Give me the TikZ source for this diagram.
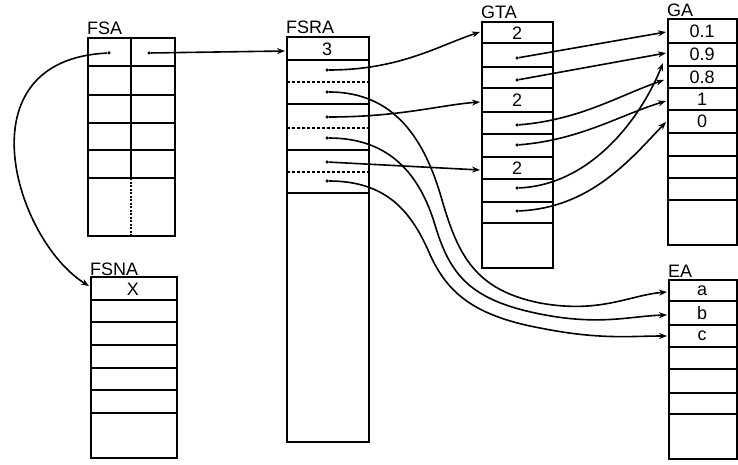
\documentclass[tikz,border=0pt]{standalone}
\usepackage{fontspec}
\setmainfont{Liberation Sans}
\usetikzlibrary{arrows.meta}
\begin{document}
\begin{tikzpicture}[x=1pt,y=-1pt,
  box/.style={line width=2.2pt},
  sep/.style={line width=1.9pt},
  dsep/.style={line width=1.6pt, dash pattern=on 3pt off 2pt},
  ptr/.style={line width=1.6pt, -{Stealth[length=8pt,width=6pt]}},
  lbl/.style={anchor=base west, inner sep=0pt, font=\fontsize{18}{21}\selectfont},
  val/.style={inner sep=0pt, font=\fontsize{18}{21}\selectfont},
  dotn/.style={circle, fill, inner sep=0pt, minimum size=3.5pt}]
\useasboundingbox (0,0) rectangle (738,465);
\fill[white] (0,0) rectangle (738,465);

% ---------- FSA ----------
\node[lbl] (lfsa) at (87,35) {FSA};
\draw[box] (88,38) rectangle (175,236);
\foreach \y in {66,95,123,150,178} \draw[sep] (88,\y) -- (175,\y);
\draw[sep] (131,38) -- (131,178);
\draw[line width=1.4pt, dash pattern=on 2pt off 1.5pt] (131,178) -- (131,236);
\node[dotn] (fsaL) at (109,53) {};
\node[dotn] (fsaR) at (149,53) {};

% ---------- FSNA ----------
\node[lbl] (lfsna) at (90,275) {FSNA};
\draw[box] (91,277) rectangle (177,458);
\foreach \y in {300,322,345,368,390,413} \draw[sep] (91,\y) -- (177,\y);
\node[val] (x) at (133,289) {X};
\coordinate (fsnaIn) at (89,286);

% ---------- FSRA ----------
\node[lbl] (lfsra) at (286,34) {FSRA};
\draw[box] (287,37) rectangle (369,442);
\foreach \y in {60,104,150,193} \draw[sep] (287,\y) -- (369,\y);
\foreach \y in {82,128,172} \draw[dsep] (287,\y) -- (369,\y);
\node[val] (three) at (327,49) {3};
\coordinate (fsraIn) at (285,51);
\node[dotn] (r1) at (327,70) {};
\node[dotn] (r2) at (327,92) {};
\node[dotn] (r3) at (327,117) {};
\node[dotn] (r4) at (327,138) {};
\node[dotn] (r5) at (327,162) {};
\node[dotn] (r6) at (327,181) {};

% ---------- GTA ----------
\node[lbl] (lgta) at (481,19) {GTA};
\draw[box] (482,22) rectangle (553,268);
\foreach \y in {43,67,88,112,134,157,179,202,223} \draw[sep] (482,\y) -- (553,\y);
\node[val] (t1) at (517,33) {2};
\node[val] (t2) at (517,100) {2};
\node[val] (t3) at (517,168) {2};
\coordinate (gtaIn1) at (480,32);
\coordinate (gtaIn2) at (480,102);
\coordinate (gtaIn3) at (480,170);
\node[dotn] (g1) at (517,58) {};
\node[dotn] (g2) at (517,80) {};
\node[dotn] (g3) at (517,125) {};
\node[dotn] (g4) at (517,145) {};
\node[dotn] (g5) at (517,188) {};
\node[dotn] (g6) at (517,211) {};

% ---------- GA ----------
\node[lbl] (lga) at (667,17) {GA};
\draw[box] (668,19) rectangle (737,245);
\foreach \y in {43,66,88,110,133,156,178,200} \draw[sep] (668,\y) -- (737,\y);
\node[val] (v1) at (702,31) {0.1};
\node[val] (v2) at (702,54) {0.9};
\node[val] (v3) at (702,77) {0.8};
\node[val] (v4) at (702,99) {1};
\node[val] (v5) at (702,121) {0};
\coordinate (gaA) at (666,32);
\coordinate (gaB) at (666,53);
\coordinate (gaC) at (664,80);
\coordinate (gaD) at (666,101);
\coordinate (gaE) at (663,63);
\coordinate (gaF) at (666,122);

% ---------- EA ----------
\node[lbl] (lea) at (668,277) {EA};
\draw[box] (669,280) rectangle (737,459);
\foreach \y in {301,325,347,369,393,414} \draw[sep] (669,\y) -- (737,\y);
\node[val] (ea) at (702,291) {a};
\node[val] (eb) at (702,313) {b};
\node[val] (ec) at (702,336) {c};
\coordinate (eaA) at (667,292);
\coordinate (eaB) at (667,315);
\coordinate (eaC) at (667,336);

% ---------- pointers ----------
\draw[ptr] (fsaR) -- (fsraIn);
\draw[ptr] (fsaL) .. controls (-40,60) and (15,240) .. (fsnaIn);

\draw[ptr] (r1) .. controls (400,70) and (440,45) .. (gtaIn1);
\draw[ptr] (r3) .. controls (400,117) and (440,105) .. (gtaIn2);
\draw[ptr] (r5) -- (gtaIn3);

\draw[ptr] (r2) .. controls (395,92) and (425,140) .. (442,200)
  .. controls (458,255) and (475,290) .. (540,303)
  .. controls (600,314) and (630,295) .. (eaA);
\draw[ptr] (r4) .. controls (390,138) and (420,175) .. (435,225)
  .. controls (450,275) and (470,300) .. (540,314)
  .. controls (600,326) and (630,316) .. (eaB);
\draw[ptr] (r6) .. controls (385,181) and (410,210) .. (428,250)
  .. controls (445,290) and (470,315) .. (540,328)
  .. controls (600,340) and (630,336) .. (eaC);

\draw[ptr] (g1) -- (gaA);
\draw[ptr] (g2) -- (gaB);
\draw[ptr] (g3) .. controls (580,120) and (620,95) .. (gaC);
\draw[ptr] (g4) .. controls (580,140) and (620,115) .. (gaD);
\draw[ptr] (g5) .. controls (590,185) and (640,120) .. (gaE);
\draw[ptr] (g6) .. controls (590,208) and (630,160) .. (gaF);
\end{tikzpicture}
\end{document}
